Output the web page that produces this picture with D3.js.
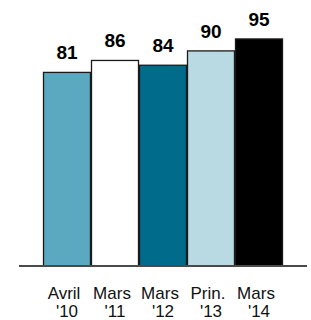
<!DOCTYPE html>
<html><head><meta charset="utf-8">
<script src="https://cdn.jsdelivr.net/npm/d3@7"></script>
<style>html,body{margin:0;padding:0;background:#fff;}svg{display:block;}</style>
</head><body>
<svg id="c" width="311" height="320"></svg>
<script>
const labelsLine1 = ["Avril", "Mars", "Mars", "Prin.", "Mars"];
const labelsLine2 = ["'10", "'11", "'12", "'13", "'14"];
const values = [81, 86, 84, 90, 95];
const colors = ["#5aa9c1", "#ffffff", "#006b8b", "#b9d9e3", "#000000"];

const svg = d3.select("#c");
const keys = d3.range(values.length);
const x = d3.scaleBand().domain(keys).range([43, 283]).padding(0);
const y = d3.scaleLinear().domain([0, 100]).range([266, 27]);

svg.selectAll("rect.bar").data(keys).join("rect")
  .attr("class", "bar")
  .attr("x", i => x(i) + 0.5)
  .attr("y", i => y(values[i]))
  .attr("width", x.bandwidth() - 1)
  .attr("height", i => y(0) - y(values[i]))
  .attr("fill", i => colors[i])
  .attr("stroke", "#1a1a1a")
  .attr("stroke-width", 1.3);

svg.append("line")
  .attr("x1", 19).attr("x2", 307)
  .attr("y1", y(0)).attr("y2", y(0))
  .attr("stroke", "#4a4a4a").attr("stroke-width", 2);

svg.selectAll("text.val").data(keys).join("text")
  .attr("class", "val")
  .attr("x", i => x(i) + x.bandwidth() / 2)
  .attr("y", i => y(values[i]) - 13)
  .attr("text-anchor", "middle")
  .attr("font-family", "Liberation Sans, Arial, sans-serif")
  .attr("font-weight", "bold")
  .attr("font-size", 19)
  .attr("fill", "#000")
  .text(i => values[i]);

const lab = svg.selectAll("text.cat").data(keys).join("text")
  .attr("class", "cat")
  .attr("text-anchor", "middle")
  .attr("font-family", "Liberation Sans, Arial, sans-serif")
  .attr("font-size", 17)
  .attr("fill", "#111");
lab.append("tspan")
  .attr("x", i => x(i) + x.bandwidth() / 2 - 3)
  .attr("y", 299)
  .text(i => labelsLine1[i]);
lab.append("tspan")
  .attr("x", i => x(i) + x.bandwidth() / 2)
  .attr("y", 317)
  .text(i => labelsLine2[i]);
</script>
</body></html>
